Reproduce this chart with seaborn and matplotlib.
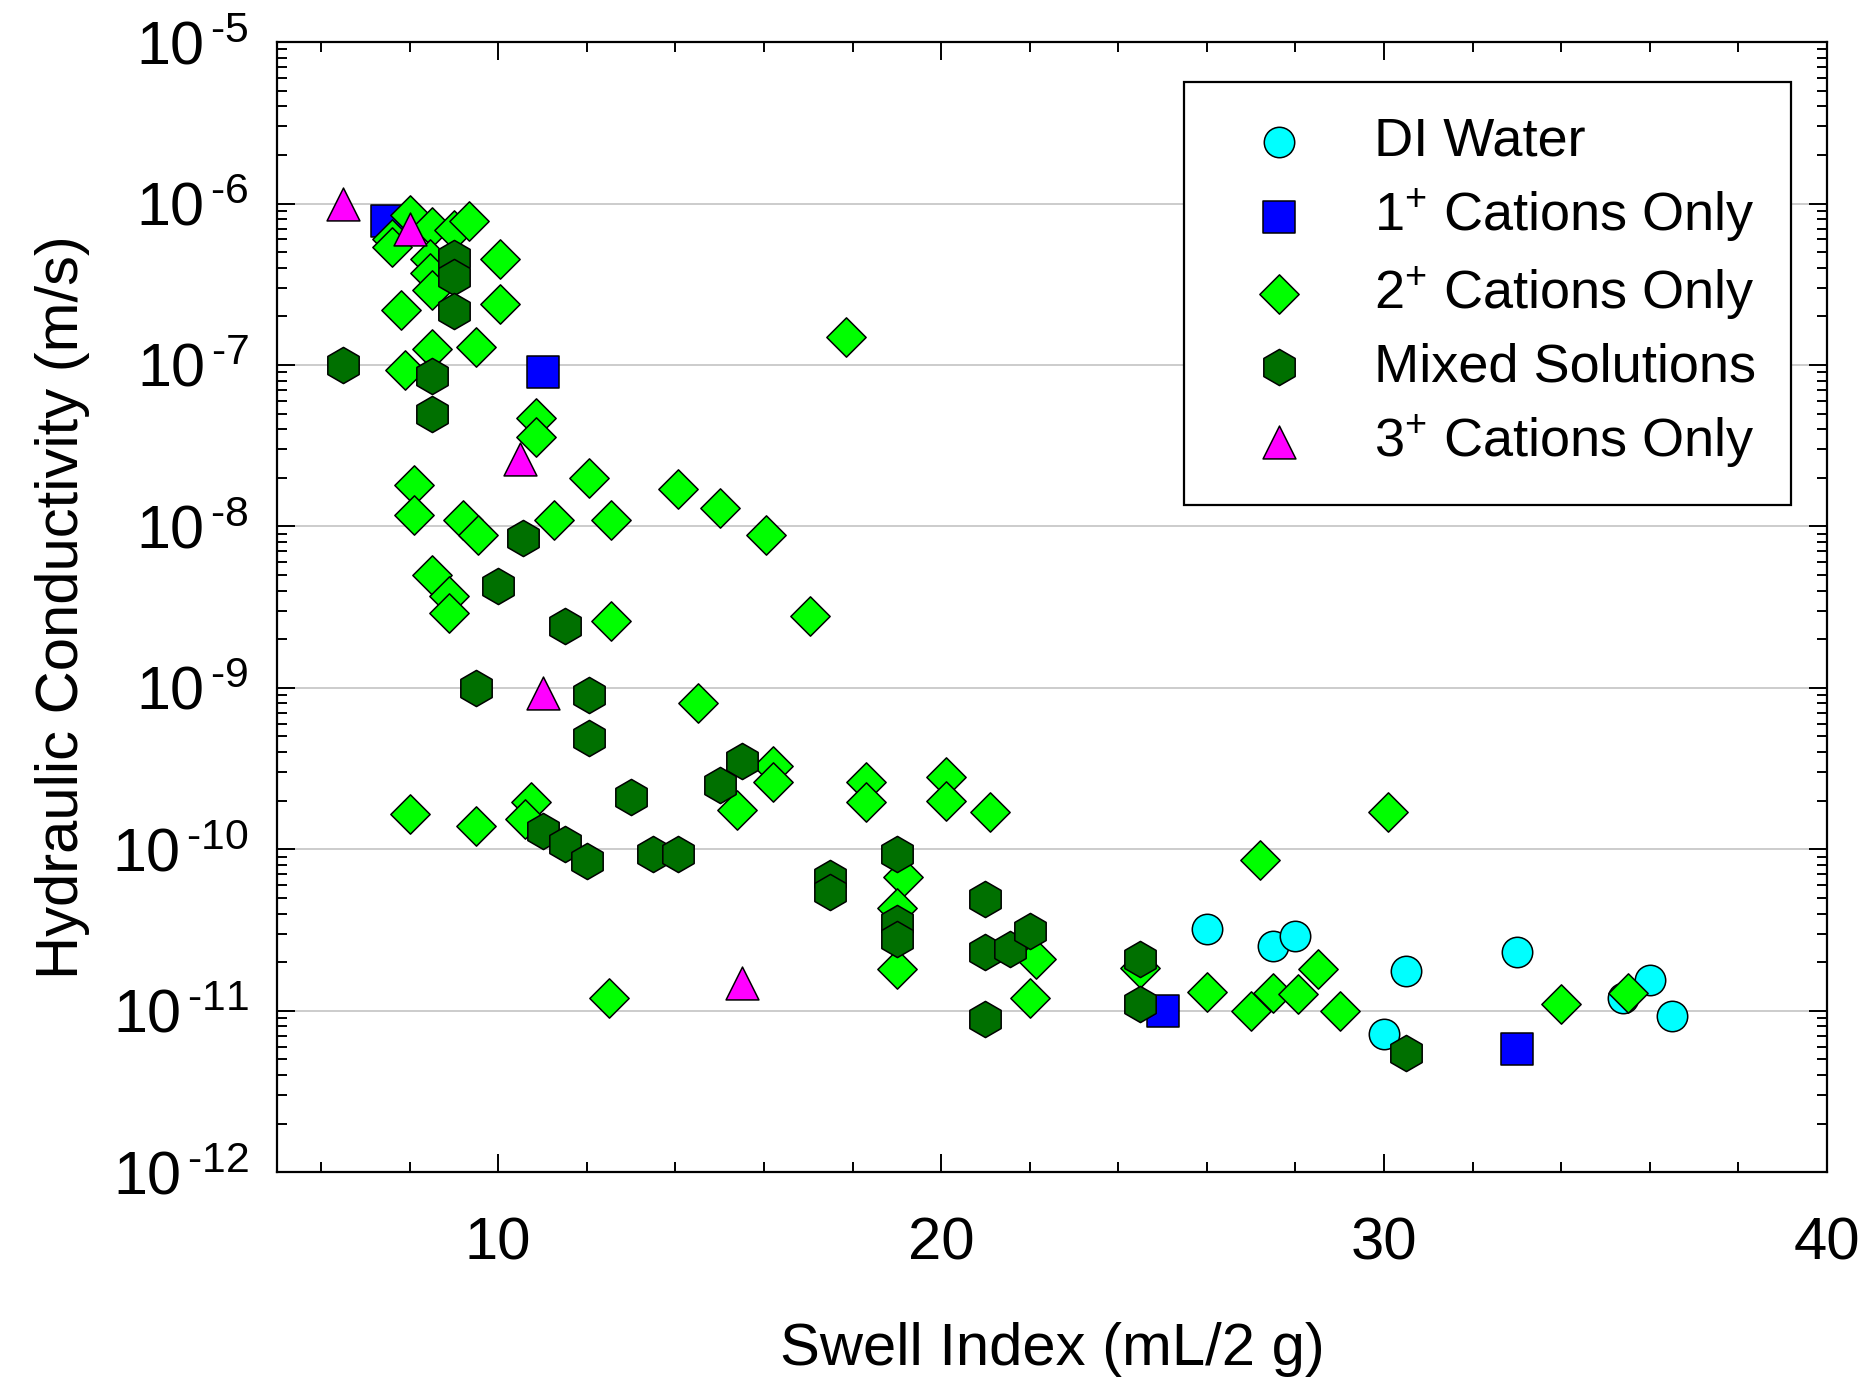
import matplotlib
matplotlib.use('Agg')

import seaborn as sns
import matplotlib.pyplot as plt
from matplotlib.ticker import LogLocator, MultipleLocator, FuncFormatter
import numpy as np

# DI Water
di_x = [26.0, 27.5, 28.0, 30.5, 33.0, 36.0, 36.5, 35.4, 30.0]
di_k = [3.2e-11, 2.5e-11, 2.9e-11, 1.75e-11, 2.3e-11, 1.55e-11, 9.3e-12, 1.2e-11, 7.2e-12]

# 1+ cations
mono_x = [7.5, 11.0, 25.0, 33.0]
mono_k = [7.8e-7, 9.0e-8, 1.0e-11, 5.8e-12]

# 2+ cations
di2_x = [7.6, 7.6, 8.0, 8.5, 9.0, 9.35, 8.45, 8.45, 8.5, 10.05, 10.05, 7.8, 9.5, 8.5, 7.9,
         10.85, 10.85, 8.1, 8.1, 9.2, 9.55, 11.25, 12.05, 12.55, 14.05, 15.0, 16.05, 17.05,
         17.85, 8.5, 8.9, 8.9, 12.55, 14.5, 8.0, 9.5, 10.75, 10.6, 15.4, 16.2, 16.2, 18.3,
         18.3, 20.1, 20.1, 21.1, 19.15, 19.0, 19.0, 22.15, 22.0, 24.5, 12.5, 30.1, 27.2,
         26.0, 27.0, 27.5, 28.05, 28.5, 29.0, 34.0, 35.5]
di2_k = [6.0e-7, 5.4e-7, 8.5e-7, 7.2e-7, 6.9e-7, 7.8e-7, 4.5e-7, 3.7e-7, 2.9e-7, 4.5e-7,
         2.4e-7, 2.2e-7, 1.3e-7, 1.25e-7, 9.3e-8, 4.7e-8, 3.6e-8, 1.8e-8, 1.18e-8, 1.1e-8,
         8.9e-9, 1.1e-8, 2.0e-8, 1.1e-8, 1.7e-8, 1.3e-8, 8.9e-9, 2.8e-9, 1.5e-7, 5.0e-9,
         3.7e-9, 2.9e-9, 2.6e-9, 8.0e-10, 1.65e-10, 1.4e-10, 1.97e-10, 1.55e-10, 1.75e-10,
         3.3e-10, 2.6e-10, 2.6e-10, 1.95e-10, 2.8e-10, 2.0e-10, 1.7e-10, 6.7e-11, 4.3e-11,
         1.8e-11, 2.1e-11, 1.2e-11, 1.85e-11, 1.2e-11, 1.7e-10, 8.6e-11, 1.3e-11, 1.0e-11,
         1.29e-11, 1.27e-11, 1.8e-11, 1.0e-11, 1.1e-11, 1.29e-11]

# mixed solutions
mix_x = [6.5, 9.0, 9.0, 9.0, 8.5, 8.5, 10.55, 10.0, 11.5, 9.5, 12.05, 12.05, 13.0, 15.5,
         15.0, 11.0, 11.5, 12.0, 13.5, 14.05, 17.5, 17.5, 19.0, 19.0, 19.0, 21.0, 21.0,
         21.55, 22.0, 21.0, 24.5, 24.5, 30.5]
mix_k = [1.0e-7, 4.6e-7, 3.5e-7, 2.15e-7, 8.5e-8, 5.0e-8, 8.5e-9, 4.3e-9, 2.4e-9, 1.0e-9,
         9.0e-10, 4.9e-10, 2.1e-10, 3.5e-10, 2.5e-10, 1.29e-10, 1.08e-10, 8.5e-11, 9.3e-11,
         9.3e-11, 6.6e-11, 5.4e-11, 9.4e-11, 3.5e-11, 2.8e-11, 4.9e-11, 2.3e-11, 2.4e-11,
         3.1e-11, 8.9e-12, 2.1e-11, 1.1e-11, 5.5e-12]

# 3+ cations
tri_x = [6.5, 8.0, 10.5, 11.0, 15.5]
tri_k = [1.0e-6, 7.0e-7, 2.6e-8, 9.3e-10, 1.48e-11]

sns.set_style('white')
plt.rcParams['font.family'] = ['Liberation Sans', 'DejaVu Sans']
plt.rcParams['mathtext.fontset'] = 'custom'
plt.rcParams['mathtext.rm'] = 'Liberation Sans'
plt.rcParams['mathtext.it'] = 'Liberation Sans'
plt.rcParams['mathtext.bf'] = 'Liberation Sans'
plt.rcParams['axes.unicode_minus'] = False
plt.rcParams['text.color'] = 'black'
plt.rcParams['axes.labelcolor'] = 'black'

fig, ax = plt.subplots(figsize=(18.7, 13.79), dpi=100)
fig.subplots_adjust(left=0.148, right=0.977, top=0.9695, bottom=0.150)

kw = dict(ax=ax, edgecolor='black', linewidth=1.1)
sns.scatterplot(x=di_x, y=di_k, marker='o', s=480, color='#00ffff', label='DI Water', zorder=3, **kw)
sns.scatterplot(x=mono_x, y=mono_k, marker='s', s=560, color='#0000ff', label='1$^{+}$ Cations Only', zorder=4, **kw)
sns.scatterplot(x=di2_x, y=di2_k, marker='D', s=400, color='#00ff00', label='2$^{+}$ Cations Only', zorder=5, **kw)
sns.scatterplot(x=mix_x, y=mix_k, marker='h', s=680, color='#007000', label='Mixed Solutions', zorder=6, **kw)
sns.scatterplot(x=tri_x, y=tri_k, marker='^', s=560, color='#ff00ff', label='3$^{+}$ Cations Only', zorder=7, **kw)

ax.set_yscale('log')
ax.set_xlim(5, 40)
ax.set_ylim(1e-12, 1e-5)
ax.xaxis.set_major_locator(MultipleLocator(10))
ax.xaxis.set_minor_locator(MultipleLocator(2))
ax.yaxis.set_major_locator(LogLocator(base=10, numticks=20))
ax.yaxis.set_minor_locator(LogLocator(base=10, subs=range(2, 10), numticks=20))
ax.yaxis.set_major_formatter(FuncFormatter(
    lambda v, p: r'10$^{\,\text{-%d}}$' % int(round(-np.log10(v)))))

ax.grid(True, axis='y', which='major', color='#c8c8c8', linewidth=1.3)
ax.set_axisbelow(True)
for sp in ax.spines.values():
    sp.set_linewidth(1.6)
    sp.set_color('black')

ax.tick_params(which='both', direction='in', top=True, right=True, left=True, bottom=True,
               width=1.4, colors='black')
ax.tick_params(which='major', length=13, labelsize=43, pad=20)
ax.tick_params(which='minor', length=7)
ax.tick_params(axis='x', which='major', pad=32)
ax.tick_params(axis='y', which='major', labelsize=44)

ax.set_xlabel('Swell Index (mL/2 g)', fontsize=43, labelpad=36)
ax.set_ylabel('Hydraulic Conductivity (m/s)', fontsize=43, labelpad=16)

leg = ax.legend(loc='upper right', bbox_to_anchor=(0.977, 0.965), borderaxespad=0,
                fontsize=39, frameon=True, fancybox=False, edgecolor='black',
                framealpha=1, handlelength=2.2, handletextpad=0.65, borderpad=0.65,
                labelspacing=0.38)
leg.get_frame().set_linewidth(1.6)

plt.savefig('out.png', dpi=100)
plt.close(fig)
